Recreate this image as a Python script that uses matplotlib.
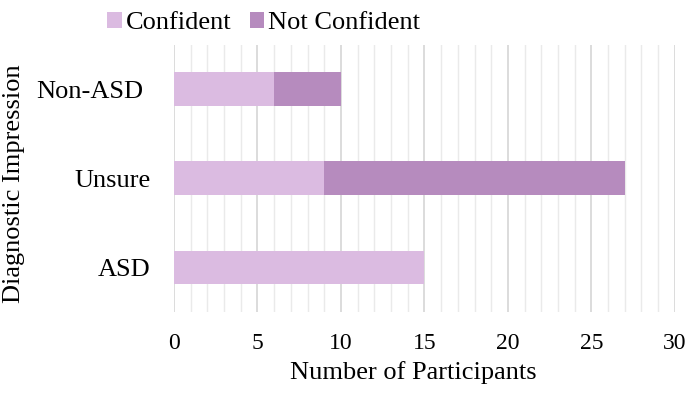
import matplotlib
matplotlib.use("Agg")
import matplotlib.pyplot as plt
import matplotlib.transforms as mtransforms
from matplotlib.ticker import MultipleLocator
import numpy as np

categories = ["ASD", "Unsure", "Non-ASD"]
confident = [15, 9, 6]
not_confident = [0, 18, 4]
series_names = ["Confident", "Not Confident"]
colors = ["#DBBBE1", "#B68BBE"]

plt.rcParams['font.family'] = ['Liberation Serif', 'DejaVu Serif']

fig = plt.figure(figsize=(6.89, 3.96), dpi=100)
ax = fig.add_axes([0.2525, 0.212, 0.727, 0.675])

y = np.arange(len(categories))
h = 0.38
ax.barh(y, confident, height=h, color=colors[0], label=series_names[0], zorder=3)
ax.barh(y, not_confident, left=confident, height=h, color=colors[1], label=series_names[1], zorder=3)

ax.set_xlim(0, 30)
ax.set_ylim(-0.5, 2.5)
ax.xaxis.set_major_locator(MultipleLocator(5))
ax.xaxis.set_minor_locator(MultipleLocator(1))
ax.grid(axis='x', which='major', color='#D6D6D6', linewidth=1.2, zorder=0)
ax.grid(axis='x', which='minor', color='#EAEAEA', linewidth=1.0, zorder=0)
ax.set_yticks(y)
ax.set_yticklabels(categories, fontsize=19)
ax.tick_params(axis='x', labelsize=17, length=0, pad=15)
ax.tick_params(axis='x', which='minor', length=0)
ax.tick_params(axis='y', length=0, pad=17)
for s in ax.spines.values():
    s.set_visible(False)

# shift the Non-ASD label slightly left as in the reference
for lbl in ax.get_yticklabels():
    if lbl.get_text() == "Non-ASD":
        lbl.set_transform(lbl.get_transform() +
                          mtransforms.ScaledTranslation(-7/100, 0, fig.dpi_scale_trans))

ax.set_xlabel("Number of Participants", fontsize=19)
ax.xaxis.set_label_coords(0.478, -0.185)
ax.set_ylabel("Diagnostic Impression", fontsize=19)
ax.yaxis.set_label_coords(-0.298, 0.48)

fig.legend(loc='upper center', bbox_to_anchor=(0.383, 1.03), ncol=2, frameon=False,
           fontsize=19, handlelength=0.55, handleheight=0.55, handletextpad=0.15,
           columnspacing=0.7)

fig.savefig("out.png", dpi=100)
